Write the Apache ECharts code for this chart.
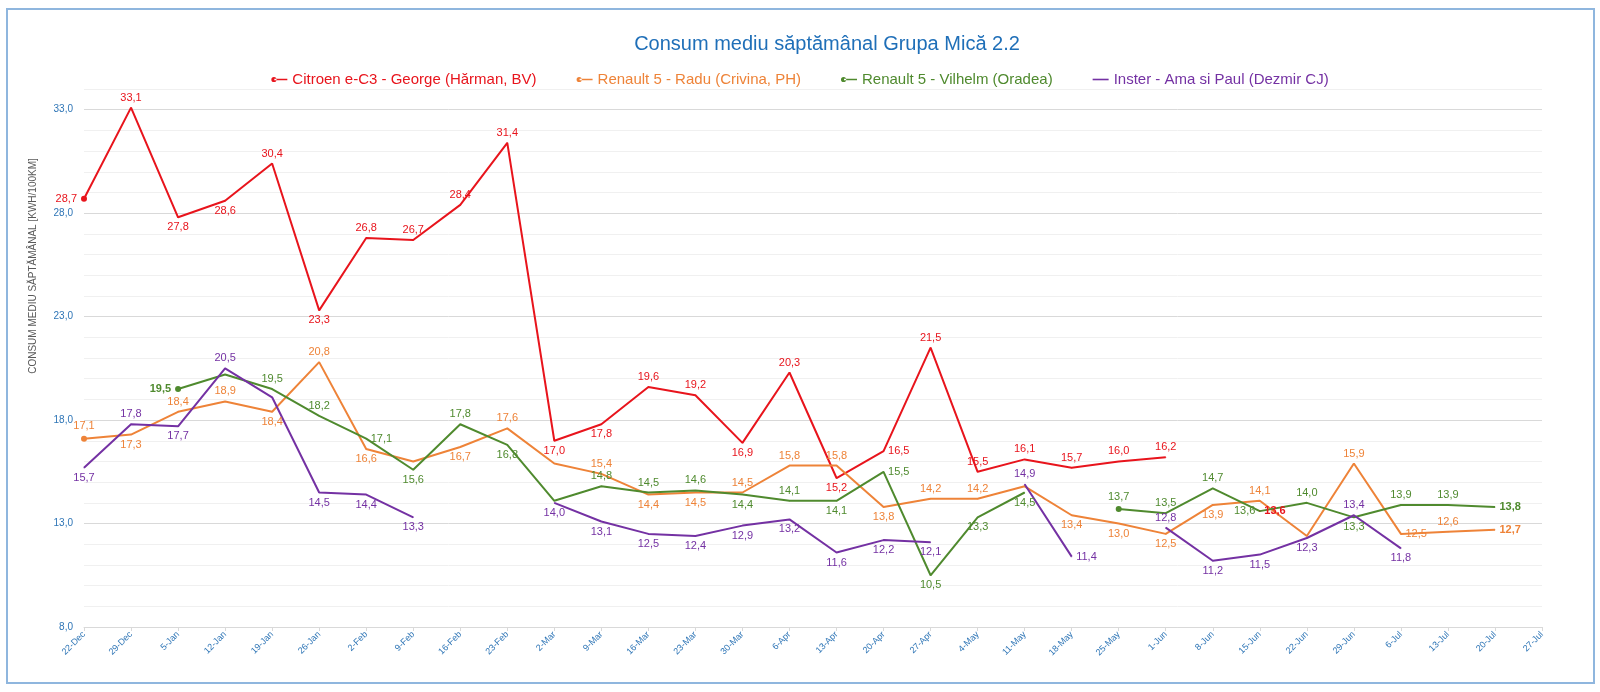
<!DOCTYPE html>
<html>
<head>
<meta charset="utf-8">
<title>Consum mediu săptămânal Grupa Mică 2.2</title>
<script src="https://cdn.jsdelivr.net/npm/echarts@6/dist/echarts.min.js"></script>
<style>
  html, body { margin: 0; padding: 0; background: #fff; }
  #chart { width: 1600px; height: 692px; }
</style>
</head>
<body>
<div id="chart"></div>
<script>
// week start dates (x axis)
const weeks = ['22-Dec', '29-Dec', '5-Jan', '12-Jan', '19-Jan', '26-Jan', '2-Feb', '9-Feb', '16-Feb', '23-Feb',
  '2-Mar', '9-Mar', '16-Mar', '23-Mar', '30-Mar', '6-Apr', '13-Apr', '20-Apr', '27-Apr', '4-May', '11-May',
  '18-May', '25-May', '1-Jun', '8-Jun', '15-Jun', '22-Jun', '29-Jun', '6-Jul', '13-Jul', '20-Jul', '27-Jul']

// kWh/100km, null = no data that week
const citroen = [28.7, 33.1, 27.8, 28.6, 30.4, 23.3, 26.8, 26.7, 28.4, 31.4, 17.0, 17.8, 19.6, 19.2, 16.9, 20.3,
  15.2, 16.5, 21.5, 15.5, 16.1, 15.7, 16.0, 16.2, null, 13.6, null, null, null, null, null, null]
const radu = [17.1, 17.3, 18.4, 18.9, 18.4, 20.8, 16.6, 16.0, 16.7, 17.6, 15.9, 15.4, 14.4, 14.5, 14.5, 15.8,
  15.8, 13.8, 14.2, 14.2, 14.8, 13.4, 13.0, 12.5, 13.9, 14.1, 12.4, 15.9, 12.5, 12.6, 12.7, null]
const vilhelm = [null, null, 19.5, 20.2, 19.5, 18.2, 17.1, 15.6, 17.8, 16.8, 14.1, 14.8, 14.5, 14.6, 14.4, 14.1,
  14.1, 15.5, 10.5, 13.3, 14.5, null, 13.7, 13.5, 14.7, 13.6, 14.0, 13.3, 13.9, 13.9, 13.8, null]
const inster = [15.7, 17.8, 17.7, 20.5, 19.1, 14.5, 14.4, 13.3, null, null, 14.0, 13.1, 12.5, 12.4, 12.9, 13.2,
  11.6, 12.2, 12.1, null, 14.9, 11.4, null, 12.8, 11.2, 11.5, 12.3, 13.4, 11.8, null, null, null]

// where each value label sits ('h' = label not shown)
const citroenLabelPos = ['left', 'top', 'bottom', 'bottom', 'top', 'bottom', 'top', 'top', 'top', 'top', 'bottom',
  'bottom', 'top', 'top', 'bottom', 'top', 'bottom', 'right', 'top', 'top', 'top', 'top', 'top', 'top', 'h',
  'right', 'h', 'h', 'h', 'h', 'h', 'h']
const raduLabelPos = ['top', 'bottom', 'top', 'top', 'bottom', 'top', 'bottom', 'h', 'bottom', 'top', 'h', 'top',
  'bottom', 'bottom', 'top', 'top', 'top', 'bottom', 'top', 'top', 'h', 'bottom', 'bottom', 'bottom', 'bottom',
  'top', 'h', 'top', 'right', 'top', 'right', 'h']
const vilhelmLabelPos = ['h', 'h', 'left', 'h', 'top', 'top', 'right', 'bottom', 'top', 'bottom', 'h', 'top', 'top',
  'top', 'bottom', 'top', 'bottom', 'right', 'bottom', 'bottom', 'bottom', 'h', 'top', 'top', 'top', 'left', 'top',
  'bottom', 'top', 'top', 'right', 'h']
const insterLabelPos = ['bottom', 'top', 'bottom', 'top', 'h', 'bottom', 'bottom', 'bottom', 'h', 'h', 'bottom',
  'bottom', 'bottom', 'bottom', 'bottom', 'bottom', 'bottom', 'bottom', 'bottom', 'h', 'top', 'right', 'h', 'top',
  'bottom', 'bottom', 'bottom', 'top', 'bottom', 'h', 'h', 'h']

const FONT = "'Liberation Sans', Arial, sans-serif"
const fmt = v => Number(v).toFixed(1).replace('.', ',')

const dotLine = 'path://M0,3a2.6,2.6 0 1,0 5.2,0a2.6,2.6 0 1,0 -5.2,0zM3,2.2h13v1.6h-13z'
const plainLine = 'path://M0,2.2h16v1.6h-16z'

function makeSeries (name, color, values, labelPos, markers, bold) {
  return {
    name: name,
    type: 'line',
    connectNulls: false,
    symbol: 'circle',
    symbolSize: 1,
    lineStyle: { color: color, width: 2 },
    itemStyle: { color: color },
    emphasis: { disabled: true },
    label: {
      show: true,
      color: color,
      fontSize: 11,
      fontFamily: FONT,
      distance: 4,
      formatter: p => fmt(p.value)
    },
    data: values.map((v, i) => {
      if (v === null) return '-'
      const item = { value: v }
      if (labelPos[i] === 'h') {
        item.label = { show: false }
      } else {
        item.label = { position: labelPos[i] }
        if (bold.indexOf(i) >= 0) item.label.fontWeight = 'bold'
      }
      if (markers.indexOf(i) >= 0) item.symbolSize = 6
      return item
    })
  }
}

const colors = {
  citroen: '#e8141c',
  radu: '#ee8338',
  vilhelm: '#4f8a2e',
  inster: '#7431a3'
}

const names = [
  'Citroen e-C3 - George (Hărman, BV)',
  'Renault 5 - Radu (Crivina, PH)',
  'Renault 5 - Vilhelm (Oradea)',
  'Inster - Ama si Paul (Dezmir CJ)'
]

const chart = echarts.init(document.getElementById('chart'))
chart.setOption({
  animation: false,
  backgroundColor: '#fff',
  title: {
    text: 'Consum mediu săptămânal Grupa Mică 2.2',
    left: 822,
    textAlign: 'center',
    top: 29,
    textStyle: { color: '#1f6fb8', fontSize: 20, fontWeight: 'normal', fontFamily: FONT }
  },
  legend: {
    top: 67,
    left: 'center',
    itemGap: 40,
    itemWidth: 16,
    itemHeight: 6,
    textStyle: { fontSize: 15, fontFamily: FONT },
    data: [
      { name: names[0], icon: dotLine, textStyle: { color: colors.citroen } },
      { name: names[1], icon: dotLine, textStyle: { color: colors.radu } },
      { name: names[2], icon: dotLine, textStyle: { color: colors.vilhelm } },
      { name: names[3], icon: plainLine, textStyle: { color: colors.inster } }
    ]
  },
  graphic: [
    {
      type: 'rect',
      shape: { x: 7, y: 9, width: 1587, height: 674 },
      style: { fill: null, stroke: '#8fb6de', lineWidth: 2 },
      silent: true
    },
    {
      type: 'text',
      x: 33,
      y: 266,
      rotation: Math.PI / 2,
      style: {
        text: 'CONSUM MEDIU SĂPTĂMÂNAL [KWH/100KM]',
        fill: '#595959',
        font: '10px ' + FONT,
        textAlign: 'center',
        textVerticalAlign: 'middle'
      }
    }
  ],
  grid: { left: 84, right: 58, top: 89, bottom: 65 },
  xAxis: {
    type: 'category',
    data: weeks,
    boundaryGap: false,
    axisLine: { lineStyle: { color: '#d9d9d9' } },
    axisTick: { show: true, length: 4, lineStyle: { color: '#d9d9d9' } },
    axisLabel: { interval: 0, rotate: 45, color: '#2e75b6', fontSize: 9, fontFamily: FONT, margin: 6 },
    splitLine: { show: false }
  },
  yAxis: {
    type: 'value',
    min: 8,
    max: 34,
    interval: 1,
    axisLine: { show: false },
    axisTick: { show: false },
    axisLabel: {
      color: '#2e75b6',
      fontSize: 10,
      fontFamily: FONT,
      margin: 11,
      formatter: v => ((v - 8) % 5 === 0 && v < 34) ? fmt(v) : ''
    },
    splitLine: {
      lineStyle: { color: ['#d9d9d9', '#f0f0f0', '#f0f0f0', '#f0f0f0', '#f0f0f0'], width: 1 }
    }
  },
  series: [
    makeSeries(names[0], colors.citroen, citroen, citroenLabelPos, [0], [25]),
    makeSeries(names[1], colors.radu, radu, raduLabelPos, [0], [30]),
    makeSeries(names[2], colors.vilhelm, vilhelm, vilhelmLabelPos, [2, 22], [2, 30]),
    makeSeries(names[3], colors.inster, inster, insterLabelPos, [], [])
  ]
})
</script>
</body>
</html>
